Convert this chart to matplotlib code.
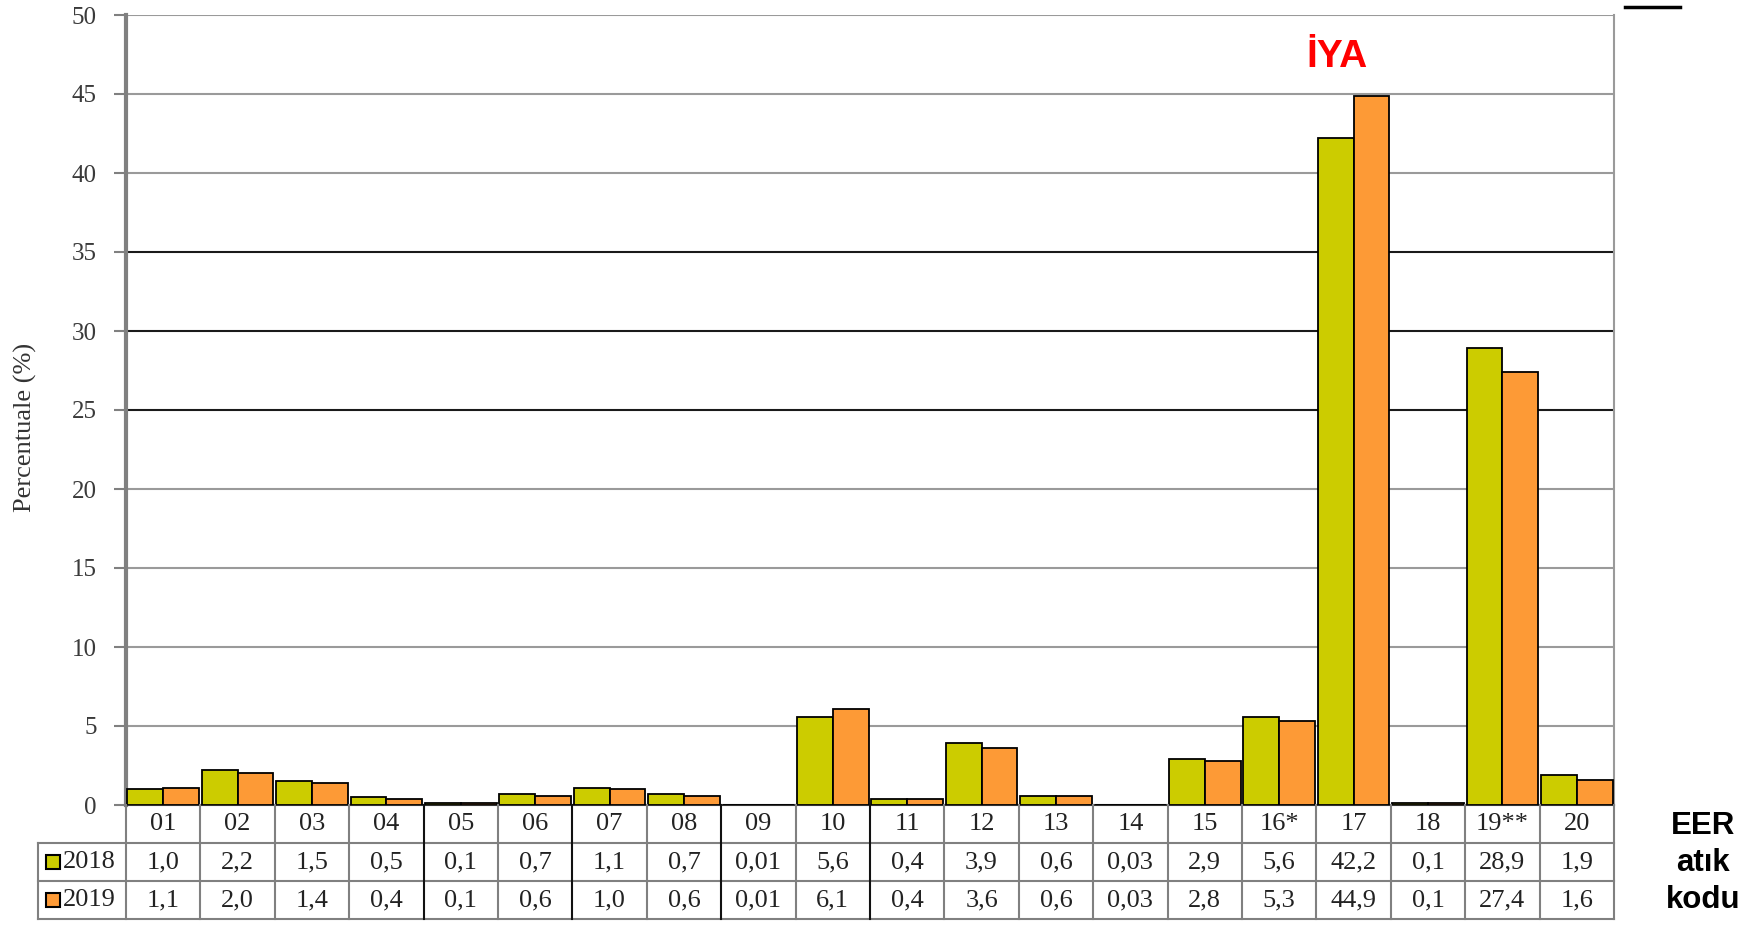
import matplotlib.pyplot as plt
import numpy as np
from matplotlib.patches import Rectangle
from matplotlib.lines import Line2D

# EER waste codes and share (%) per year
codes = ["01", "02", "03", "04", "05", "06", "07", "08", "09", "10",
         "11", "12", "13", "14", "15", "16*", "17", "18", "19**", "20"]
v2018 = [1.0, 2.2, 1.5, 0.5, 0.1, 0.7, 1.1, 0.7, 0.01, 5.6,
         0.4, 3.9, 0.6, 0.03, 2.9, 5.6, 42.2, 0.1, 28.9, 1.9]
v2019 = [1.1, 2.0, 1.4, 0.4, 0.1, 0.6, 1.0, 0.6, 0.01, 6.1,
         0.4, 3.6, 0.6, 0.03, 2.8, 5.3, 44.9, 0.1, 27.4, 1.6]
years = ["2018", "2019"]
yticks = [0, 5, 10, 15, 20, 25, 30, 35, 40, 45, 50]

green = "#cccc00"
orange = "#fd9a36"
serif = "Liberation Serif"
sans = "Liberation Sans"

W, H = 1758, 936


def fx(px):
    return px / W


def fy(py):
    return 1 - py / H


def fmt(v):
    s = f"{v:.2f}" if v < 0.05 else f"{v:.1f}"
    return s.replace(".", ",")


fig = plt.figure(figsize=(W / 100, H / 100), dpi=100)

# main bar axes
ax = fig.add_axes([fx(126), fy(805), (1614 - 126) / W, (805 - 15) / H])
x = np.arange(len(codes))
ax.bar(x - 0.24, v2018, 0.48, color=green, edgecolor="black", lw=1.3, zorder=3)
ax.bar(x + 0.24, v2019, 0.48, color=orange, edgecolor="black", lw=1.3, zorder=3)
ax.set_xlim(-0.5, len(codes) - 0.5)
ax.set_ylim(0, 50)

for y in yticks[1:]:
    c = "#1a1a1a" if y in (25, 30, 35) else "#9a9a9a"
    ax.axhline(y, color=c, lw=1.5, zorder=1)

ax.set_xticks([])
ax.set_yticks(yticks)
ax.tick_params(axis="y", direction="out", length=9, width=1.5, color="#808080",
               labelsize=18, labelcolor="#3a3a3a", pad=12)
for lab in ax.get_yticklabels():
    lab.set_fontfamily(serif)
ax.spines["top"].set_visible(False)
ax.spines["right"].set_color("#9a9a9a")
ax.spines["right"].set_linewidth(1.5)
ax.spines["left"].set_color("#808080")
ax.spines["left"].set_linewidth(3)
ax.spines["bottom"].set_color("#333333")
ax.spines["bottom"].set_linewidth(1.5)

# data table under the bars
col_px = (1614 - 126) / len(codes)
left_col = (126 - 38) / col_px
tax = fig.add_axes([fx(38), fy(919), (1614 - 38) / W, (919 - 805) / H])
x0 = -0.5 - left_col
x1 = len(codes) - 0.5
tax.set_xlim(x0, x1)
tax.set_ylim(3, 0)
tax.axis("off")

grid_c = "#808080"
for yy in (1, 2, 3):
    tax.plot([x0, x1], [yy, yy], color=grid_c, lw=1.5, clip_on=False)
tax.plot([x0, x0], [1, 3], color=grid_c, lw=1.5, clip_on=False)
for k in range(len(codes) + 1):
    xb = -0.5 + k
    c = "#111111" if xb in (3.5, 5.5, 7.5, 9.5) else grid_c
    tax.plot([xb, xb], [0, 3], color=c, lw=1.5, clip_on=False)

tkw = dict(ha="center", va="center", fontsize=19, family=serif, color="#222222")
for i, code in enumerate(codes):
    tax.text(i, 0.5, code, **tkw)
    tax.text(i, 1.5, fmt(v2018[i]), **tkw)
    tax.text(i, 2.5, fmt(v2019[i]), **tkw)

sq_w = 14 / col_px
for r, (yr, col) in enumerate(zip(years, [green, orange])):
    tax.add_patch(Rectangle((x0 + 8 / col_px, 1.5 + r - 0.18), sq_w, 0.36,
                            facecolor=col, edgecolor="black", lw=1.5, clip_on=False))
    tax.text(x0 + 25 / col_px, 1.5 + r, yr, ha="left", va="center",
             fontsize=19, family=serif, color="#222222")

# annotations
fig.text(fx(25), fy(427), "Percentuale (%)", rotation=90, ha="center", va="center",
         fontsize=19, family=serif, color="#333333")
fig.text(fx(1337), fy(67), "İYA", ha="center", va="baseline", fontsize=28,
         fontweight="bold", family=sans, color="#ff0000")
for txt, by in zip(["EER", "atık", "kodu"], [834, 871, 908]):
    fig.text(fx(1703), fy(by), txt, ha="center", va="baseline", fontsize=22.5,
             fontweight="bold", family=sans, color="black")
fig.add_artist(Line2D([fx(1625), fx(1680)], [fy(7), fy(7)], color="black", lw=2.5))

fig.savefig("out.png", dpi=100)
